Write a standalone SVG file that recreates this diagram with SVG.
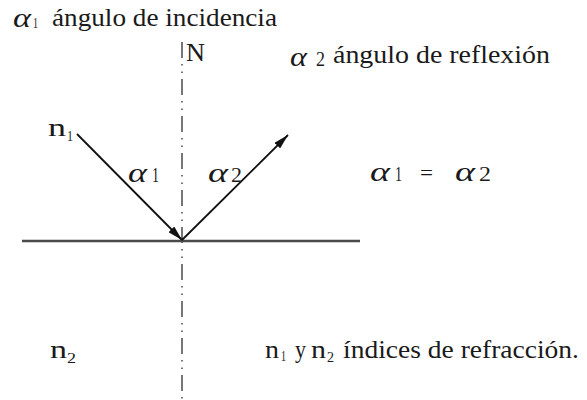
<svg xmlns="http://www.w3.org/2000/svg" width="587" height="400" viewBox="0 0 587 400">
<style>
text{font-family:"Liberation Serif","Times New Roman",serif;fill:#1a1a1a}
.t{font-size:26px}
.g{font-style:italic;font-size:28px}
.d{font-size:20px}
.sub{font-size:15px}
.line{stroke:#4a4a4a;stroke-width:2.4;fill:none}
.ray{stroke:#111;stroke-width:1.8;fill:none}
.normal{stroke:#555;stroke-width:1.6;stroke-dasharray:16 6 1.5 6 1.5 6;fill:none}
</style>
<defs>
<marker id="ah" viewBox="0 0 15 8" refX="15" refY="4" markerWidth="15" markerHeight="8" markerUnits="userSpaceOnUse" orient="auto">
<path d="M0,0 L15,4 L0,8 Z" fill="#111"/>
</marker>
</defs>
<rect width="587" height="400" fill="#fff"/>
<g id="connectors">
<line class="normal" x1="182" y1="42" x2="182" y2="400"/>
<line class="line" x1="22" y1="241" x2="360" y2="241"/>
<line class="ray" x1="77" y1="134" x2="182" y2="240" marker-end="url(#ah)"/>
<line class="ray" x1="182" y1="240" x2="288" y2="135" marker-end="url(#ah)"/>
</g>
<g id="title1">
<text class="g" x="13" y="27" textLength="18" lengthAdjust="spacingAndGlyphs">α</text>
<text class="sub" x="33" y="28" font-size="13" textLength="5" lengthAdjust="spacingAndGlyphs">1</text>
<text class="t" x="52" y="26" textLength="225" lengthAdjust="spacingAndGlyphs">ángulo de incidencia</text>
</g>
<g id="N"><text x="186" y="61" font-size="26" textLength="19" lengthAdjust="spacingAndGlyphs">N</text></g>
<g id="title2">
<text class="g" x="290" y="66" textLength="17" lengthAdjust="spacingAndGlyphs">α</text>
<text class="d" x="316" y="66" textLength="9" lengthAdjust="spacingAndGlyphs">2</text>
<text class="t" x="333" y="63" textLength="217" lengthAdjust="spacingAndGlyphs">ángulo de reflexión</text>
</g>
<g id="n1">
<text class="t" x="48" y="136" textLength="18" lengthAdjust="spacingAndGlyphs">n</text>
<text class="sub" x="67" y="141" textLength="6" lengthAdjust="spacingAndGlyphs">1</text>
</g>
<g id="a1">
<text class="g" x="128" y="182" textLength="19" lengthAdjust="spacingAndGlyphs">α</text>
<text class="d" x="152" y="182" textLength="7" lengthAdjust="spacingAndGlyphs">1</text>
</g>
<g id="a2">
<text class="g" x="208" y="182" textLength="20" lengthAdjust="spacingAndGlyphs">α</text>
<text class="d" x="231" y="182" textLength="11" lengthAdjust="spacingAndGlyphs">2</text>
</g>
<g id="eq">
<text class="g" x="370" y="181" textLength="20" lengthAdjust="spacingAndGlyphs">α</text>
<text class="d" x="395" y="181" textLength="7" lengthAdjust="spacingAndGlyphs">1</text>
<text class="d" x="420" y="180" textLength="13" lengthAdjust="spacingAndGlyphs">=</text>
<text class="g" x="455" y="181" textLength="20" lengthAdjust="spacingAndGlyphs">α</text>
<text class="d" x="479" y="181" textLength="12" lengthAdjust="spacingAndGlyphs">2</text>
</g>
<g id="n2">
<text class="t" x="50" y="358" textLength="17" lengthAdjust="spacingAndGlyphs">n</text>
<text class="sub" x="67" y="363" textLength="9" lengthAdjust="spacingAndGlyphs">2</text>
</g>
<g id="legend">
<text class="t" x="265" y="358" font-size="24" textLength="14" lengthAdjust="spacingAndGlyphs">n</text>
<text class="sub" x="281" y="361" font-size="12" textLength="5" lengthAdjust="spacingAndGlyphs">1</text>
<text class="t" x="295" y="358" font-size="24" textLength="11" lengthAdjust="spacingAndGlyphs">y</text>
<text class="t" x="311" y="358" font-size="24" textLength="15" lengthAdjust="spacingAndGlyphs">n</text>
<text class="sub" x="327" y="362" font-size="13" textLength="7" lengthAdjust="spacingAndGlyphs">2</text>
<text class="t" x="343" y="358" font-size="24" textLength="236" lengthAdjust="spacingAndGlyphs">índices de refracción.</text>
</g>
</svg>
